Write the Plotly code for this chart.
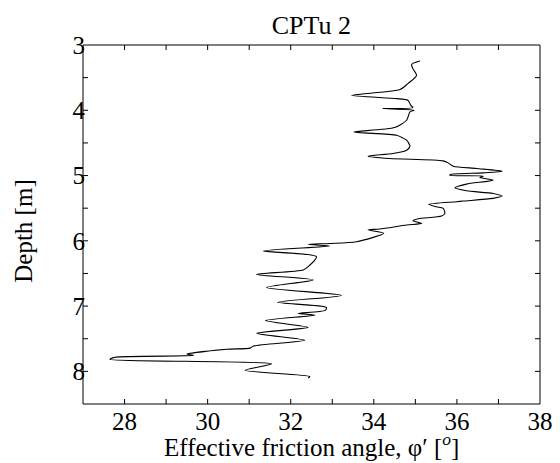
import plotly.graph_objects as go

# Effective friction angle (deg) vs depth (m)
phi = [35.11, 34.91, 34.94, 35.03, 34.82, 34.63, 33.46, 34.55, 34.82, 34.89,
       34.94, 34.21, 34.97, 34.87, 34.79, 34.50, 33.52, 34.55, 34.70, 34.79,
       34.87, 34.79, 34.46, 33.86, 34.38, 35.67, 35.79, 35.91, 36.47, 37.09,
       36.63, 35.84, 35.83, 36.64, 36.55, 36.87, 36.23, 35.95, 36.23, 36.87,
       37.09, 36.87, 36.15, 35.99, 35.32, 35.51, 35.67, 35.71, 35.63, 35.07,
       34.94, 35.15, 34.79, 34.14, 33.86, 34.24, 33.58, 32.94, 32.42, 32.94,
       31.34, 32.62, 32.42, 32.30, 31.18, 32.54, 31.42, 33.22, 31.68, 32.86,
       32.83, 32.18, 32.58, 31.39, 32.42, 31.18, 32.34, 31.10, 31.02, 30.46,
       29.50, 29.66, 27.77, 27.65, 31.54, 30.90, 32.46, 32.42]
depth = [3.246, 3.297, 3.362, 3.465, 3.592, 3.683, 3.771, 3.821, 3.847, 3.924,
         3.959, 3.974, 4.000, 4.026, 4.153, 4.265, 4.332, 4.382, 4.424, 4.459,
         4.550, 4.612, 4.662, 4.703, 4.739, 4.775, 4.806, 4.856, 4.891, 4.933,
         4.959, 4.983, 4.994, 5.009, 5.029, 5.070, 5.131, 5.188, 5.234, 5.274,
         5.315, 5.350, 5.391, 5.402, 5.442, 5.479, 5.503, 5.580, 5.621, 5.662,
         5.693, 5.732, 5.758, 5.820, 5.832, 5.885, 6.014, 6.041, 6.054, 6.080,
         6.156, 6.243, 6.396, 6.446, 6.515, 6.599, 6.714, 6.836, 6.943, 7.020,
         7.066, 7.112, 7.139, 7.222, 7.326, 7.417, 7.524, 7.613, 7.644, 7.662,
         7.736, 7.757, 7.784, 7.815, 7.884, 7.983, 8.078, 8.102]

x_tickvals = [27, 28, 29, 30, 31, 32, 33, 34, 35, 36, 37, 38]
x_ticktext = ["", "28", "", "30", "", "32", "", "34", "", "36", "", "38"]
y_tickvals = [3, 3.5, 4, 4.5, 5, 5.5, 6, 6.5, 7, 7.5, 8, 8.5]
y_ticktext = ["3", "", "4", "", "5", "", "6", "", "7", "", "8", ""]

FONT = "Liberation Serif, Times New Roman, serif"
W, H = 560, 463
ML, MR, MT, MB = 83, 20, 45, 59
PW, PH = W - ML - MR, H - MT - MB
TL = 5  # tick length in px

fig = go.Figure()
fig.add_trace(go.Scatter(x=phi, y=depth, mode="lines",
                         line=dict(color="black", width=1.1, shape="spline", smoothing=0.7),
                         showlegend=False, hoverinfo="skip"))

# frame and inside ticks on all four sides
shapes = [dict(type="rect", xref="paper", yref="paper", x0=0, x1=1, y0=0, y1=1,
               line=dict(color="black", width=1), layer="above")]
for v in x_tickvals[1:-1]:
    for y0, y1 in ((0, TL / PH), (1, 1 - TL / PH)):
        shapes.append(dict(type="line", xref="x", yref="paper", x0=v, x1=v,
                           y0=y0, y1=y1, line=dict(color="black", width=1)))
for v in y_tickvals[1:-1]:
    for x0, x1 in ((0, TL / PW), (1, 1 - TL / PW)):
        shapes.append(dict(type="line", xref="paper", yref="y", x0=x0, x1=x1,
                           y0=v, y1=v, line=dict(color="black", width=1)))

fig.update_layout(
    template="none",
    width=W, height=H,
    margin=dict(l=ML, r=MR, t=MT, b=MB),
    paper_bgcolor="white", plot_bgcolor="white",
    font=dict(family=FONT, color="black"),
    xaxis=dict(range=[27, 38], tickmode="array", tickvals=x_tickvals,
               ticktext=x_ticktext, showline=False, ticks="",
               showgrid=False, zeroline=False, automargin=False,
               tickfont=dict(family=FONT, size=25, color="black")),
    yaxis=dict(range=[8.5, 3], tickmode="array", tickvals=y_tickvals,
               ticktext=y_ticktext, showline=False, ticks="",
               showgrid=False, zeroline=False, automargin=False,
               ticklabelstandoff=-3,
               tickfont=dict(family=FONT, size=25, color="black")),
    shapes=shapes,
    title=dict(text="CPTu 2", x=0.556, xanchor="center", y=1 - 25 / H,
               yanchor="middle", yref="container",
               font=dict(family=FONT, size=26, color="black")),
    annotations=[
        dict(text="Effective friction angle, φ′ [<i><sup>o</sup></i>]",
             xref="paper", yref="paper", x=0.5, y=-0.115,
             xanchor="center", yanchor="middle", showarrow=False,
             font=dict(family=FONT, size=25, color="black")),
        dict(text="Depth [m]", xref="paper", yref="paper", x=-0.129, y=0.48,
             xanchor="center", yanchor="middle", textangle=-90, showarrow=False,
             font=dict(family=FONT, size=25, color="black")),
    ],
)

fig.write_html("out.html", config={"displayModeBar": False},
               post_script="document.body.style.margin='0';document.body.style.overflow='hidden';")
